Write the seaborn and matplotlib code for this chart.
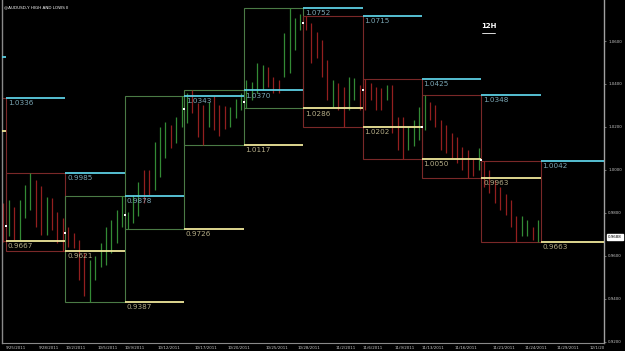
import numpy as np
import pandas as pd
import matplotlib
matplotlib.use("Agg")
import matplotlib.pyplot as plt
import seaborn as sns
from matplotlib.patches import Rectangle

# ---------------- data ----------------
BARS_PER_WEEK = 11

# 12H bars, first bar belongs to the week before 9/25
bar_high = [0.9847,
    0.9860, 0.9829, 0.9860, 0.9930, 0.9985, 0.9953, 0.9926, 0.9876, 0.9868, 0.9806, 0.9775,
    0.9736, 0.9705, 0.9674, 0.9612, 0.9581, 0.9597, 0.9659, 0.9736, 0.9767, 0.9814, 0.9878,
    0.9806, 0.9884, 0.9945, 0.9999, 0.9999, 1.0131, 1.0201, 1.0224, 1.0209, 1.0248, 1.0343,
    1.0357, 1.0370, 1.0310, 1.0302, 1.0317, 1.0345, 1.0302, 1.0298, 1.0291, 1.0330, 1.0360,
    1.0419, 1.0411, 1.0496, 1.0488, 1.0480, 1.0434, 1.0419, 1.0636, 1.0752, 1.0705, 1.0728,
    1.0715, 1.0682, 1.0643, 1.0605, 1.0512, 1.0419, 1.0403, 1.0388, 1.0434, 1.0426, 1.0395,
    1.0425, 1.0403, 1.0388, 1.0380, 1.0395, 1.0395, 1.0248, 1.0248, 1.0201, 1.0230, 1.0294,
    1.0348, 1.0317, 1.0300, 1.0233, 1.0209, 1.0170, 1.0155, 1.0108, 1.0093, 1.0050, 1.0101,
    1.0042, 1.0000, 0.9953, 0.9922, 0.9890, 0.9861, 0.9783, 0.9783, 0.9767, 0.9736, 0.9767]
bar_low = [0.9665,
    0.9690, 0.9674, 0.9674, 0.9775, 0.9814, 0.9736, 0.9698, 0.9698, 0.9721, 0.9659, 0.9621,
    0.9643, 0.9636, 0.9488, 0.9411, 0.9387, 0.9488, 0.9550, 0.9557, 0.9612, 0.9659, 0.9736,
    0.9726, 0.9752, 0.9783, 0.9845, 0.9884, 0.9907, 0.9969, 1.0054, 1.0101, 1.0124, 1.0201,
    1.0217, 1.0263, 1.0155, 1.0117, 1.0201, 1.0185, 1.0159, 1.0190, 1.0200, 1.0240, 1.0280,
    1.0286, 1.0326, 1.0357, 1.0372, 1.0388, 1.0357, 1.0357, 1.0434, 1.0450, 1.0558, 1.0651,
    1.0651, 1.0496, 1.0519, 1.0434, 1.0326, 1.0294, 1.0279, 1.0202, 1.0279, 1.0326, 1.0279,
    1.0279, 1.0326, 1.0279, 1.0280, 1.0326, 1.0170, 1.0093, 1.0050, 1.0093, 1.0110, 1.0140,
    1.0186, 1.0233, 1.0200, 1.0093, 1.0077, 1.0054, 1.0031, 1.0000, 0.9963, 0.9970, 1.0000,
    0.9922, 0.9892, 0.9845, 0.9814, 0.9790, 0.9736, 0.9663, 0.9690, 0.9690, 0.9675, 0.9666]
bar_dir = ("r"
    "grgggrrgrrr"
    "rrrrggggggg"
    "gggrrgggrgg"
    "grrrgrrrggg"
    "ggggrrrgggg"
    "rrrrrgrrggr"
    "rrrrgrrrggg"
    "grrrrrrrrrg"
    "rrrrrrrggrg")

# weekly highs / lows, weeks starting 9/11 (index -2) ... 11/20 (index 8)
week_high = [1.0526, 1.0336, 0.9985, 0.9878, 1.0343, 1.0370, 1.0752, 1.0715, 1.0425, 1.0348, 1.0042]
week_low = [1.0181, 0.9667, 0.9621, 0.9387, 0.9726, 1.0117, 1.0286, 1.0202, 1.0050, 0.9963, 0.9663]
week_dir = ["r", "r", "r", "g", "g", "g", "g", "r", "r", "r", "r"]
# week opens, weeks 9/25 ... 11/20
week_open = [0.9741, 0.9705, 0.9791, 1.0284, 1.0317, 1.0682, 1.0372, 1.0201, 1.0047]

tick_bars = [0, 6, 11, 17, 22, 28, 35, 41, 48, 54, 61, 66, 72, 77, 83, 90, 96, 102, 108]
tick_labels = ["9/25/2011", "9/28/2011", "10/2/2011", "10/5/2011", "10/9/2011", "10/12/2011",
               "10/17/2011", "10/20/2011", "10/25/2011", "10/28/2011", "11/2/2011", "11/6/2011",
               "11/9/2011", "11/13/2011", "11/16/2011", "11/21/2011", "11/24/2011", "11/29/2011",
               "12/1/20"]
price_ticks = [0.92, 0.94, 0.96, 0.98, 1.00, 1.02, 1.04, 1.06]
last_price = 0.9688
title = "@AUDUSD,Y HIGH AND LOWS II"

# ---------------- styling ----------------
sns.set_theme(style="dark", rc={"axes.facecolor": "black", "figure.facecolor": "black"})
plt.rcParams["font.family"] = ["DejaVu Sans"]

BAR_COL = {"g": "#338a35", "r": "#931f1f"}
BOX_COL = {"g": "#4a7a45", "r": "#7a2828"}
CYAN = "#5ccfe2"
YELLOW = "#efe79a"
CYAN_TXT = "#7aa6b4"
YELLOW_TXT = "#b3ab86"

fig = plt.figure(figsize=(6.25, 3.51), dpi=100, facecolor="black")
ax = fig.add_axes([2 / 625, 8 / 351, 602 / 625, 343 / 351])
ax.set_facecolor("black")

XMIN, XMAX = -0.74, 110.7
YMIN, YMAX = 0.9194, 1.0791

# bars
df = pd.DataFrame({"i": np.arange(-1, len(bar_high) - 1), "high": bar_high,
                   "low": bar_low, "dir": list(bar_dir)})
ax.vlines(df["i"] + 0.5, df["low"], df["high"], colors=df["dir"].map(BAR_COL), lw=0.9, zorder=2)

# weekly boxes and carried-over levels
last_week = len(week_high) - 3  # index of last drawn week
for j, (h, l, d) in enumerate(zip(week_high, week_low, week_dir), start=-2):
    x0 = j * BARS_PER_WEEK
    ax.add_patch(Rectangle((x0, l), BARS_PER_WEEK, h - l, fill=False,
                           ec=BOX_COL[d], lw=0.8, zorder=1))
    xs = x0 + BARS_PER_WEEK
    xe = xs + BARS_PER_WEEK if j < last_week else XMAX
    ax.hlines([h], xs, xe, colors=CYAN, lw=1.3, zorder=3)
    ax.hlines([l], xs, xe, colors=YELLOW, lw=1.3, zorder=3)
    ax.annotate(f"{h:.4f}", (xs, h), xytext=(1.2, -1.5), textcoords="offset points",
                ha="left", va="top", fontsize=5.2, color=CYAN_TXT, zorder=4,
                annotation_clip=True)
    ax.annotate(f"{l:.4f}", (xs, l), xytext=(1.2, -1.5), textcoords="offset points",
                ha="left", va="top", fontsize=5.2, color=YELLOW_TXT, zorder=4,
                annotation_clip=True)

# week open markers
wo = pd.DataFrame({"x": np.arange(len(week_open)) * BARS_PER_WEEK, "y": week_open})
sns.scatterplot(data=wo, x="x", y="y", ax=ax, color="white", marker="s", s=2.5,
                linewidth=0, zorder=5, legend=False)

ax.set_xlim(XMIN, XMAX)
ax.set_ylim(YMIN, YMAX)
ax.set_xlabel("")
ax.set_ylabel("")

ax.set_xticks(tick_bars)
ax.set_xticklabels(tick_labels, fontsize=2.9, color="#c8c8c8", ha="left")
ax.tick_params(axis="x", length=1.5, width=0.5, colors="#9a9a9a", pad=0.8, labelcolor="#c8c8c8")
ax.yaxis.tick_right()
ax.set_yticks(price_ticks)
ax.set_yticklabels([f"{v:.4f}" for v in price_ticks], fontsize=2.9, color="#c8c8c8")
ax.tick_params(axis="y", length=1.5, width=0.5, colors="#9a9a9a", pad=1.5, labelcolor="#c8c8c8")
ax.grid(False)

ax.spines["top"].set_visible(False)
ax.spines["left"].set_color("#8a8a8a")
ax.spines["left"].set_linewidth(1.0)
ax.spines["right"].set_color("#a0a0a0")
ax.spines["right"].set_linewidth(1.0)
ax.spines["bottom"].set_color("#8a8a8a")
ax.spines["bottom"].set_linewidth(0.8)

# last price flag
ax.annotate(f"{last_price:.4f}", xy=(1.0, last_price), xycoords=("axes fraction", "data"),
            xytext=(3, 0), textcoords="offset points", ha="left", va="center",
            fontsize=2.9, color="black",
            bbox=dict(boxstyle="square,pad=0.25", fc="white", ec="white"), annotation_clip=False)

ax.text(0.004, 0.985, title, transform=ax.transAxes, fontsize=3.0, color="white",
        ha="left", va="top")
ax.text(0.808, 0.925, "12H", transform=ax.transAxes, fontsize=5, fontweight="bold",
        color="white", ha="center", va="center")
ax.plot([0.797, 0.819], [0.905, 0.905], transform=ax.transAxes, color="white", lw=0.6)

fig.savefig("out.png", dpi=100, facecolor="black")
